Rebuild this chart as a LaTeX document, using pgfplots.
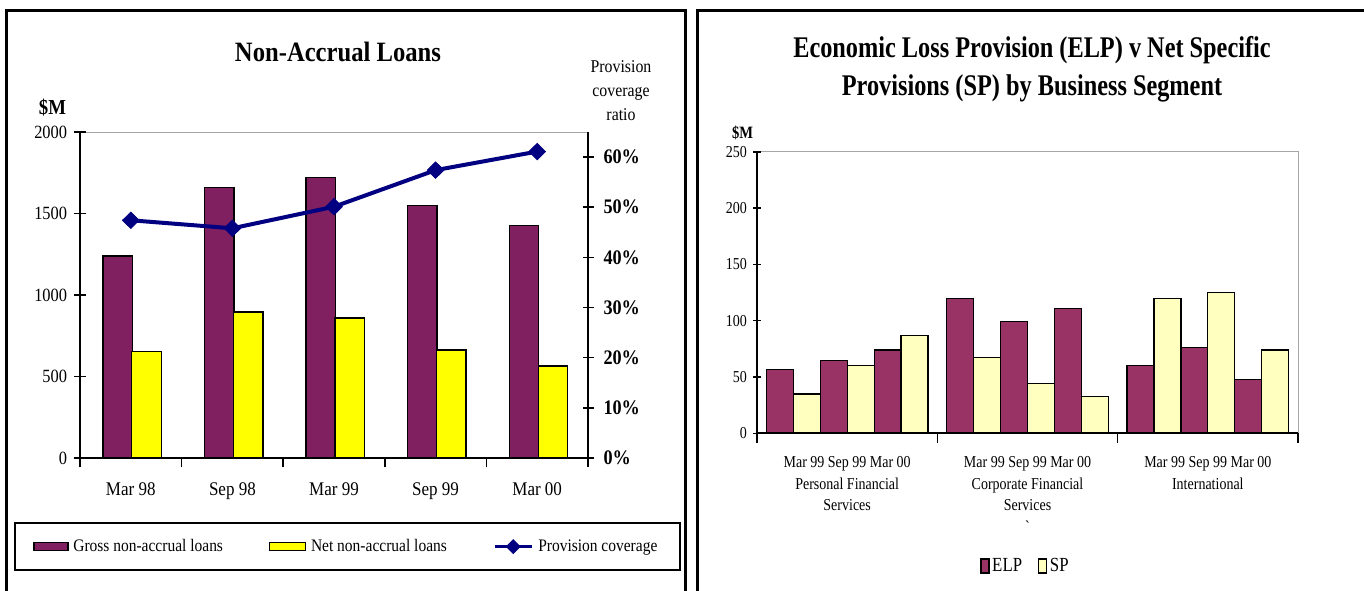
\documentclass[border=0pt]{standalone}
\usepackage{fontspec}
\setmainfont{Liberation Serif}[FakeStretch=0.88]
\newfontfamily\cond{Liberation Serif}[FakeStretch=0.84]
\newfontfamily\condtitle{Liberation Serif}[FakeStretch=0.81]
\usepackage{pgfplots}
\pgfplotsset{compat=1.18}
\definecolor{gross}{RGB}{128,32,96}
\definecolor{elp}{RGB}{153,51,102}
\definecolor{spc}{RGB}{255,255,192}
\definecolor{navyc}{RGB}{0,0,128}
\definecolor{netc}{RGB}{255,255,0}
\begin{document}
\begin{tikzpicture}
\useasboundingbox (0pt,0pt) rectangle (1023pt,442.5pt);
% panel frames
\draw[line width=2.25pt] (4.875pt,-4pt) -- (4.875pt,434.25pt) -- (514.125pt,434.25pt) -- (514.125pt,-4pt);
\draw[line width=2.25pt] (522.75pt,-4pt) -- (522.75pt,434.25pt) -- (1028pt,434.25pt);
% left titles
\node[font=\bfseries\fontsize{21}{25}\selectfont] at (253.5pt,403.5pt) {Non-Accrual Loans};
\node[font=\bfseries\fontsize{16}{18}\selectfont] at (39.4pt,361.9pt) {\$M};
\node[align=center, font=\fontsize{13.5}{18}\selectfont] at (465.75pt,374.25pt) {Provision\\coverage\\ratio};
% right titles
\node[align=center, font=\condtitle\bfseries\fontsize{22.5}{28.7}\selectfont] at (774pt,390.75pt) {Economic Loss Provision (ELP) v Net Specific\\Provisions (SP) by Business Segment};
\node[font=\cond\bfseries\fontsize{13}{15}\selectfont] at (557pt,342.75pt) {\$M};

% ---------- left chart: bars ----------
\begin{axis}[at={(60pt,99pt)}, anchor=south west, scale only axis,
  width=381pt, height=244.5pt,
  xmin=-0.5, xmax=4.5, ymin=0, ymax=2000, enlargelimits=false,
  axis on top,
  axis x line*=bottom, axis y line*=left,
  axis line style={line width=1.5pt},
  xtick={0,...,4}, xticklabels={Mar 98,Sep 98,Mar 99,Sep 99,Mar 00},
  major x tick style={draw=none},
  minor xtick={-0.5,0.5,...,4.5},
  ytick={0,500,...,2000},
  tick align=center, major tick length=8.25pt, minor tick length=7pt,
  tick style={line width=1.2pt, black},
  /pgf/number format/assume math mode=true,
  /pgf/number format/1000 sep={},
  yticklabel style={font=\fontsize{14}{14}\selectfont, xshift=-2pt},
  xticklabel style={font=\fontsize{14.5}{15}\selectfont, yshift=-7pt},
  ybar=0pt, bar width=0.29, clip=false]
\addplot[fill=gross, draw=black, line width=1pt, bar shift=-0.13] coordinates {(0,1240) (1,1660) (2,1720) (3,1550) (4,1425)};
\addplot[fill=netc, draw=black, line width=1pt, bar shift=0.155] coordinates {(0,653) (1,896) (2,859) (3,663) (4,564)};
\draw[gray!70, line width=0.75pt] (rel axis cs:0,1) -- (rel axis cs:1,1);
\end{axis}

% ---------- left chart: coverage line ----------
\begin{axis}[at={(60pt,99pt)}, anchor=south west, scale only axis,
  width=381pt, height=244.5pt,
  xmin=-0.5, xmax=4.5, ymin=0, ymax=65, enlargelimits=false,
  axis x line=none, axis y line*=right,
  axis line style={line width=1.5pt},
  ytick={0,10,...,60}, yticklabels={0\%,10\%,20\%,30\%,40\%,50\%,60\%},
  tick align=center, major tick length=8.25pt,
  tick style={line width=1.2pt, black},
  yticklabel style={font=\bfseries\fontsize{15.5}{16}\selectfont, xshift=4pt},
  clip=false,
  legend columns=3,
  legend style={at={(0.527,-0.2715)}, anchor=center, draw=black, line width=1.5pt,
    inner xsep=13.5pt, inner ysep=9pt,
    font=\fontsize{13.2}{14}\selectfont,
    /tikz/every even column/.append style={column sep=31pt},
    nodes={inner sep=3.5pt}},
  legend cell align=left]
\addlegendimage{legend image code/.code={\draw[fill=gross, draw=black, line width=1pt] (0pt,-3pt) rectangle (25.5pt,3pt);}}
\addlegendentry{Gross non-accrual loans}
\addlegendimage{legend image code/.code={\draw[fill=netc, draw=black, line width=1pt] (0pt,-3pt) rectangle (27pt,3pt);}}
\addlegendentry{Net non-accrual loans}
\addplot[navyc, line width=3pt, mark=diamond*, mark size=6.2pt,
  mark options={solid, fill=navyc, draw=navyc, line width=0.5pt, xscale=1.35},
  legend image code/.code={\draw[navyc, line width=2.5pt] (0pt,0pt) -- (28pt,0pt);
     \fill[navyc] (14pt,3.5pt) -- (17.5pt,0pt) -- (14pt,-3.5pt) -- (10.5pt,0pt) -- cycle;}]
  coordinates {(0,47.4) (1,45.8) (2,50.1) (3,57.4) (4,61.1)};
\addlegendentry{Provision coverage}
\end{axis}

% ---------- right chart ----------
\begin{axis}[at={(567.75pt,117.5pt)}, anchor=south west, scale only axis,
  width=405.75pt, height=211.2pt,
  xmin=-0.5, xmax=2.5, ymin=0, ymax=250, enlargelimits=false,
  axis on top,
  axis x line*=bottom, axis y line*=left,
  axis line style={line width=1.5pt},
  xtick={0,1,2},
  xticklabels={{Mar 99 Sep 99 Mar 00\\Personal Financial\\Services},
               {Mar 99 Sep 99 Mar 00\\Corporate Financial\\Services\\`},
               {Mar 99 Sep 99 Mar 00\\International}},
  major x tick style={draw=none},
  minor xtick={-0.5,0.5,1.5,2.5},
  ytick={0,50,...,250},
  tick align=center, major tick length=6pt, minor tick length=7pt,
  tick style={line width=1.2pt, black},
  /pgf/number format/assume math mode=true,
  yticklabel style={font=\cond\fontsize{12.5}{13}\selectfont, xshift=-1pt},
  xticklabel style={font=\cond\fontsize{12.5}{16.2}\selectfont, align=center, yshift=-8pt},
  ybar, bar width=0.1494, clip=false,
  legend columns=2,
  legend style={at={(0.405,-0.471)}, anchor=west, draw=none, fill=none,
    font=\cond\fontsize{15}{16}\selectfont,
    /tikz/every even column/.append style={column sep=10pt},
    nodes={inner sep=2pt}}]
\addplot[fill=elp, draw=black, line width=0.9pt, bar shift=0pt,
  legend image code/.code={\draw[fill=elp, draw=black, line width=0.9pt] (0pt,-5.25pt) rectangle (6pt,5.25pt);}]
  coordinates {(-0.3735,57) (-0.0747,65) (0.2241,74)
               (0.6265,120) (0.9253,99) (1.2241,111)
               (1.6265,60) (1.9253,76) (2.2241,48)};
\addlegendentry{ELP}
\addplot[fill=spc, draw=black, line width=0.9pt, bar shift=0pt,
  legend image code/.code={\draw[fill=spc, draw=black, line width=0.9pt] (0pt,-5.25pt) rectangle (6pt,5.25pt);}]
  coordinates {(-0.2241,35) (0.0747,60) (0.3735,87)
               (0.7759,67) (1.0747,44) (1.3735,33)
               (1.7759,120) (2.0747,125) (2.3735,74)};
\addlegendentry{SP}
\draw[gray!70, line width=0.75pt] (rel axis cs:0,1) -- (rel axis cs:1,1) -- (rel axis cs:1,0);
\end{axis}
\end{tikzpicture}
\end{document}
